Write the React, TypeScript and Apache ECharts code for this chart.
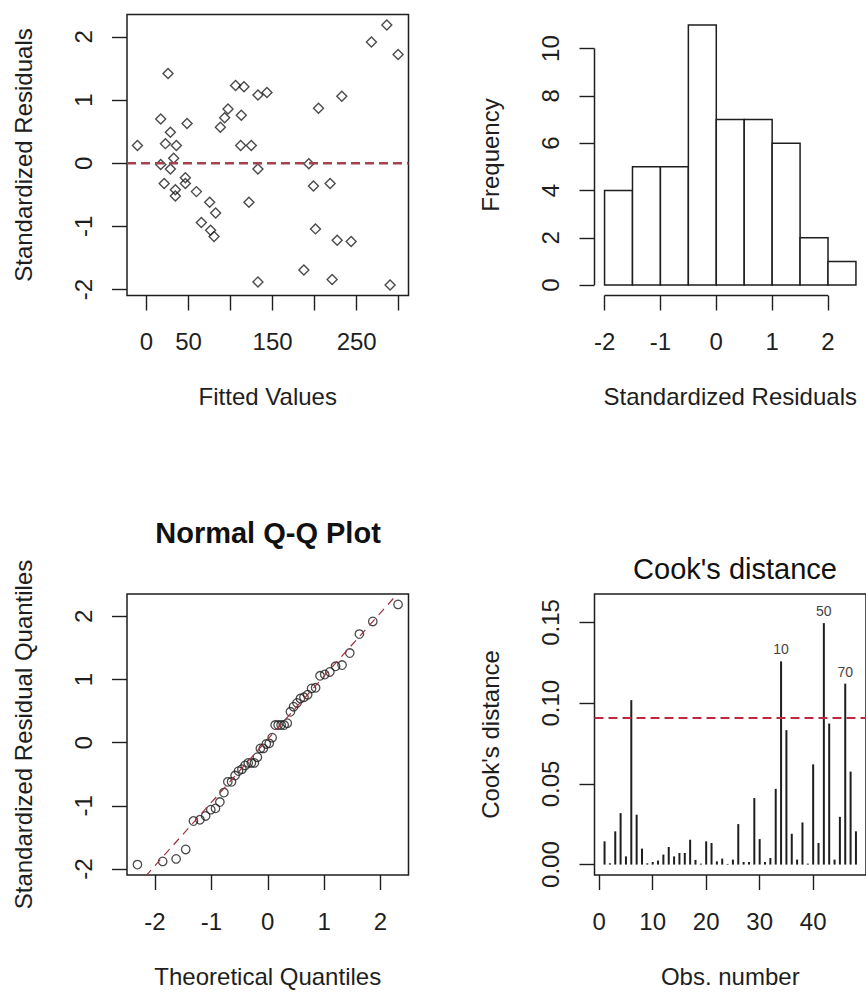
import { useEffect, useRef } from "react";
import * as echarts from "echarts";

// Regression diagnostics for 48 observations.
const fittedValues = [
  -10.7, 25.7, 17, 28.5, 22.6, 35.6, 32.4, 17, 28.5, 48.3, 21.1, 34.4, 34.4, 46.3, 46.3, 59.4,
  75.2, 82.3, 65.3, 76.3, 80.4, 87.9, 93, 97, 106, 116, 112.8, 112, 124.7, 132.6, 143.3, 132.6,
  121.9, 132.6, 193.1, 198.6, 218.4, 204.6, 232.3, 201, 226.8, 243.4, 187.2, 220.8, 289.7, 267.5,
  285.8, 299.2,
];
const standardizedResiduals = [
  0.28, 1.42, 0.7, 0.49, 0.31, 0.28, 0.08, -0.02, -0.09, 0.63, -0.32, -0.42, -0.52, -0.23, -0.32,
  -0.45, -0.62, -0.79, -0.94, -1.06, -1.16, 0.57, 0.72, 0.86, 1.23, 1.21, 0.76, 0.28, 0.28, 1.08,
  1.12, -0.09, -0.62, -1.88, -0.01, -0.36, -0.32, 0.87, 1.06, -1.04, -1.22, -1.24, -1.69, -1.84,
  -1.93, 1.92, 2.19, 1.72,
];
// qnorm(ppoints(48))
const theoreticalQuantiles = [
  -2.311, -1.863, -1.625, -1.455, -1.318, -1.203, -1.101, -1.01, -0.927, -0.849, -0.777, -0.708,
  -0.642, -0.579, -0.519, -0.458, -0.402, -0.346, -0.291, -0.237, -0.184, -0.131, -0.078, -0.026,
  0.026, 0.078, 0.131, 0.184, 0.237, 0.291, 0.346, 0.402, 0.458, 0.519, 0.579, 0.642, 0.708, 0.777,
  0.849, 0.927, 1.01, 1.101, 1.203, 1.318, 1.455, 1.625, 1.863, 2.311,
];
const cooksDistance = [
  0.0144, 0.0008, 0.0206, 0.0319, 0.0051, 0.1019, 0.0309, 0.0099, 0.0008, 0.0016, 0.0025, 0.0062,
  0.0109, 0.0051, 0.0072, 0.0072, 0.0154, 0.0029, 0.0006, 0.0144, 0.0134, 0.002, 0.0037, 0.0004,
  0.0031, 0.0251, 0.0016, 0.0016, 0.0412, 0.0158, 0.0016, 0.0041, 0.0469, 0.1259, 0.0833, 0.0191,
  0.0031, 0.0261, 0.0006, 0.0621, 0.0134, 0.1496, 0.0874, 0.0031, 0.0296, 0.1121, 0.0576, 0.0206,
];
// row names printed over the most influential observations
const cookIdObs = [34, 42, 46];
const cookIdNames = ["10", "50", "70"];
const cookCutoff = 0.0909;

const histBreaks = [-2, -1.5, -1, -0.5, 0, 0.5, 1, 1.5, 2, 2.5];

const fittedTicks = [0, 50, 100, 150, 200, 250, 300];
const fittedTickLabels = [0, 50, 150, 250];
const residTicks = [-2, -1, 0, 1, 2];
const freqTicks = [0, 2, 4, 6, 8, 10];
const obsTicks = [0, 10, 20, 30, 40];
const cookTicks = [0, 0.05, 0.1, 0.15];

const FONT = '"Liberation Sans", Arial, Helvetica, sans-serif';
const INK = "#1e1e1e";
const FS = 24;

function quantile7(sorted: number[], p: number) {
  const h = (sorted.length - 1) * p;
  const lo = Math.floor(h);
  return sorted[lo] + (h - lo) * (sorted[Math.min(lo + 1, sorted.length - 1)] - sorted[lo]);
}

function axis(o: any) {
  const horizontal = o.dim === "x";
  return {
    gridIndex: o.grid,
    type: "value",
    min: o.min,
    max: o.max,
    axisLine: { show: false, onZero: false },
    splitLine: { show: false },
    axisTick: {
      show: true,
      customValues: o.ticks,
      length: 15,
      lineStyle: { color: INK, width: 1.4 },
    },
    axisLabel: {
      customValues: o.labels || o.ticks,
      margin: horizontal ? 34 : 32,
      rotate: horizontal ? 0 : 90,
      fontSize: FS,
      fontFamily: FONT,
      color: INK,
      formatter: o.fmt,
    },
    name: o.name,
    nameLocation: "middle",
    nameGap: horizontal ? 89 : 92,
    nameTextStyle: { fontSize: FS, fontFamily: FONT, color: INK },
  };
}

export default function App() {
  const ref = useRef<HTMLDivElement>(null);

  useEffect(() => {
    if (!ref.current) return;
    const chart = echarts.init(ref.current, undefined, { renderer: "svg" });

    const grids = [
      { left: 127, top: 14.5, width: 281.5, height: 281 },
      { left: 594.5, top: 14.5, width: 280.5, height: 281 },
      { left: 127, top: 594, width: 281.5, height: 281 },
      { left: 594.5, top: 594, width: 280.5, height: 281 },
    ];
    const boxed = [true, false, true, true];

    const resid = { min: -2.095, max: 2.355 };
    const histX = { min: -2.18, max: 2.68 };
    const histY = { min: -0.44, max: 11.44 };
    const qqX = { min: -2.496, max: 2.496 };
    const obsX = { min: -0.88, max: 49.88 };
    const cookY = { min: -0.00645, max: 0.16765 };
    const fitX = { min: -23.1, max: 311.6 };

    const histData = histBreaks.slice(0, -1).map((lo, k) => {
      const hi = histBreaks[k + 1];
      const n = standardizedResiduals.filter(
        (r) => (k === 0 ? r >= lo : r > lo) && r <= hi
      ).length;
      return [lo, hi, n];
    });

    const sortedResid = standardizedResiduals.slice().sort((a, b) => a - b);
    const q1 = quantile7(sortedResid, 0.25);
    const q3 = quantile7(sortedResid, 0.75);
    const z = 0.6744898;
    const slope = (q3 - q1) / (2 * z);
    const intercept = q1 + slope * z;

    const option: any = {
      animation: false,
      backgroundColor: "#ffffff",
      grid: grids.map((g, i) => ({
        ...g,
        show: boxed[i],
        borderColor: INK,
        borderWidth: 1.5,
        backgroundColor: "transparent",
        containLabel: false,
      })),
      xAxis: [
        axis({ dim: "x", grid: 0, ...fitX, ticks: fittedTicks, labels: fittedTickLabels, name: "Fitted Values" }),
        axis({ dim: "x", grid: 1, ...histX, ticks: residTicks, name: "Standardized Residuals" }),
        axis({ dim: "x", grid: 2, ...qqX, ticks: residTicks, name: "Theoretical Quantiles" }),
        axis({ dim: "x", grid: 3, ...obsX, ticks: obsTicks, name: "Obs. number" }),
      ],
      yAxis: [
        axis({ dim: "y", grid: 0, ...resid, ticks: residTicks, name: "Standardized Residuals" }),
        axis({ dim: "y", grid: 1, ...histY, ticks: freqTicks, name: "Frequency" }),
        axis({ dim: "y", grid: 2, ...resid, ticks: residTicks, name: "Standardized Residual Quantiles" }),
        axis({
          dim: "y",
          grid: 3,
          ...cookY,
          ticks: cookTicks,
          name: "Cook's distance",
          fmt: (v: number) => v.toFixed(2),
        }),
      ],
      graphic: [
        {
          type: "text",
          x: 268,
          y: 533,
          style: {
            text: "Normal Q-Q Plot",
            fontSize: 29,
            fontWeight: "bold",
            fontFamily: FONT,
            fill: "#111",
            align: "center",
            verticalAlign: "middle",
          },
        },
        {
          type: "text",
          x: 735,
          y: 569,
          style: {
            text: "Cook's distance",
            fontSize: 29,
            fontFamily: FONT,
            fill: "#111",
            align: "center",
            verticalAlign: "middle",
          },
        },
      ],
      series: [
        // residuals vs fitted
        {
          type: "line",
          xAxisIndex: 0,
          yAxisIndex: 0,
          data: [
            [fitX.min, 0],
            [fitX.max, 0],
          ],
          symbol: "none",
          silent: true,
          lineStyle: { color: "#a8404e", width: 2.5, type: [9, 5] },
        },
        {
          type: "scatter",
          xAxisIndex: 0,
          yAxisIndex: 0,
          data: fittedValues.map((f, i) => [f, standardizedResiduals[i]]),
          symbol: "diamond",
          symbolSize: 10,
          itemStyle: { color: "rgba(0,0,0,0)", borderColor: INK, borderWidth: 1.4 },
        },
        // histogram of residuals
        {
          type: "custom",
          xAxisIndex: 1,
          yAxisIndex: 1,
          clip: false,
          encode: { x: [0, 1], y: 2 },
          data: histData,
          renderItem: (_p: any, api: any) => {
            const a = api.coord([api.value(0), api.value(2)]);
            const b = api.coord([api.value(1), 0]);
            return {
              type: "rect",
              shape: { x: a[0], y: a[1], width: b[0] - a[0], height: b[1] - a[1] },
              style: { fill: "#ffffff", stroke: INK, lineWidth: 1.5 },
            };
          },
        },
        {
          type: "line",
          xAxisIndex: 1,
          yAxisIndex: 1,
          clip: false,
          data: [
            [residTicks[0], histY.min],
            [residTicks[residTicks.length - 1], histY.min],
          ],
          symbol: "none",
          silent: true,
          lineStyle: { color: INK, width: 1.5 },
        },
        {
          type: "line",
          xAxisIndex: 1,
          yAxisIndex: 1,
          clip: false,
          data: [
            [histX.min, freqTicks[0]],
            [histX.min, freqTicks[freqTicks.length - 1]],
          ],
          symbol: "none",
          silent: true,
          lineStyle: { color: INK, width: 1.5 },
        },
        // normal Q-Q
        {
          type: "line",
          xAxisIndex: 2,
          yAxisIndex: 2,
          data: [
            [qqX.min, intercept + slope * qqX.min],
            [qqX.max, intercept + slope * qqX.max],
          ],
          symbol: "none",
          silent: true,
          lineStyle: { color: "#a0303e", width: 1.2, type: [8, 6] },
        },
        {
          type: "scatter",
          xAxisIndex: 2,
          yAxisIndex: 2,
          data: theoreticalQuantiles.map((q, i) => [q, sortedResid[i]]),
          symbol: "circle",
          symbolSize: 8.5,
          itemStyle: { color: "rgba(0,0,0,0)", borderColor: INK, borderWidth: 1.3 },
        },
        // Cook's distance
        {
          type: "line",
          xAxisIndex: 3,
          yAxisIndex: 3,
          data: [
            [obsX.min, cookCutoff],
            [obsX.max, cookCutoff],
          ],
          symbol: "none",
          silent: true,
          lineStyle: { color: "#c0283e", width: 2, type: [9, 5] },
        },
        {
          type: "custom",
          xAxisIndex: 3,
          yAxisIndex: 3,
          clip: false,
          encode: { x: 0, y: 1 },
          data: cooksDistance.map((d, i) => [i + 1, d]),
          renderItem: (_p: any, api: any) => {
            const obs = api.value(0);
            const base = api.coord([obs, 0]);
            const top = api.coord([obs, api.value(1)]);
            const children: any[] = [
              {
                type: "line",
                shape: { x1: base[0], y1: base[1], x2: top[0], y2: top[1] },
                style: { stroke: INK, lineWidth: 2 },
              },
            ];
            const k = cookIdObs.indexOf(obs);
            if (k >= 0) {
              children.push({
                type: "text",
                x: top[0],
                y: top[1] - 5,
                style: {
                  text: cookIdNames[k],
                  fontSize: 14,
                  fontFamily: FONT,
                  fill: "#444",
                  align: "center",
                  verticalAlign: "bottom",
                },
              });
            }
            return { type: "group", children };
          },
        },
      ],
    };

    chart.setOption(option);
    return () => chart.dispose();
  }, []);

  return (
    <div
      ref={ref}
      style={{ position: "absolute", left: 0, top: 0, width: 866, height: 992, background: "#fff" }}
    />
  );
}
